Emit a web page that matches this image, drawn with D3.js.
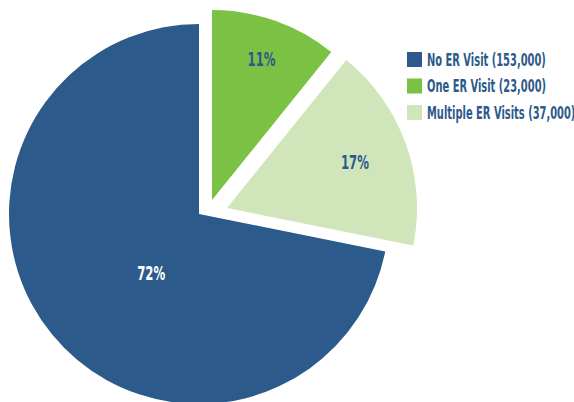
<!DOCTYPE html>
<html>
<head>
<meta charset="utf-8">
<script src="https://cdn.jsdelivr.net/npm/d3@7"></script>
<style>
  body { margin: 0; background: #fff; }
  text { font-family: "Liberation Sans Narrow", "DejaVu Sans Condensed", sans-serif; font-weight: bold; }
</style>
</head>
<body>
<div class="chart"></div>
<script>
// data
var categories = ["No ER Visit", "One ER Visit", "Multiple ER Visits"];
var visits = [153000, 23000, 37000];
var pctLabels = ["72%", "11%", "17%"];
var colors = ["#2c5a8a", "#7bc143", "#d1e5bb"];
var labelColors = ["#ffffff", "#2c5a8a", "#2c5a8a"];

var svgWidth = 574;
var svgHeight = 402;
var radius = 190;

var svg = d3.select(".chart")
  .append("svg")
  .attr("width", svgWidth)
  .attr("height", svgHeight);

// pie centre and how far each slice is pulled out (exploded)
var cx = 199, cy = 214;
var shifts = [[0, 0], [13, -14], [28, -6]];

var total = d3.sum(visits);
var start = -2 * Math.PI * visits[0] / total;

var pie = d3.pie()
  .sort(null)
  .startAngle(start)
  .endAngle(start + 2 * Math.PI);

var arcs = pie(visits);

var arc = d3.arc()
  .innerRadius(0)
  .outerRadius(radius);

var pieGroup = svg.append("g")
  .attr("transform", `translate(${cx}, ${cy})`);

var slices = pieGroup.selectAll("g.slice")
  .data(arcs)
  .enter()
  .append("g")
  .attr("class", "slice")
  .attr("transform", (d, i) => `translate(${shifts[i][0]}, ${shifts[i][1]})`);

slices.append("path")
  .attr("d", arc)
  .attr("fill", (d, i) => colors[i]);

// label placement: radius and angle (deg) inside each slice
var labelRadius = [76, 149, 136];
var labelAngle = [219, null, null];

var labels = slices.append("text")
  .attr("text-anchor", "middle")
  .attr("dy", "0.36em")
  .attr("font-size", "19px")
  .attr("fill", (d, i) => labelColors[i])
  .text((d, i) => pctLabels[i]);

// squeeze the font so it looks condensed like the original
var labelScale = 28 / labels.node().getComputedTextLength();

labels.attr("transform", function(d, i) {
  var a = labelAngle[i] != null ? labelAngle[i] * Math.PI / 180 : (d.startAngle + d.endAngle) / 2;
  var la = d3.arc().innerRadius(labelRadius[i]).outerRadius(labelRadius[i]);
  var c = la.centroid({startAngle: a, endAngle: a});
  return `translate(${c[0]}, ${c[1]}) scale(${labelScale}, 1)`;
});

// legend
var legend = svg.append("g")
  .attr("transform", "translate(407, 52)");

var rows = legend.selectAll("g.row")
  .data(categories)
  .enter()
  .append("g")
  .attr("class", "row")
  .attr("transform", (d, i) => `translate(0, ${i * 26.5})`);

rows.append("rect")
  .attr("width", 15)
  .attr("height", 15)
  .attr("fill", (d, i) => colors[i]);

var legendText = rows.append("text")
  .attr("dy", "0.36em")
  .attr("font-size", "18px")
  .attr("fill", "#2c5a8a")
  .text((d, i) => `${d} (${d3.format(",")(visits[i])})`);

var legendScale = 119 / legendText.node().getComputedTextLength();
legendText.attr("transform", `translate(20, 7.5) scale(${legendScale}, 1)`);
</script>
</body>
</html>
